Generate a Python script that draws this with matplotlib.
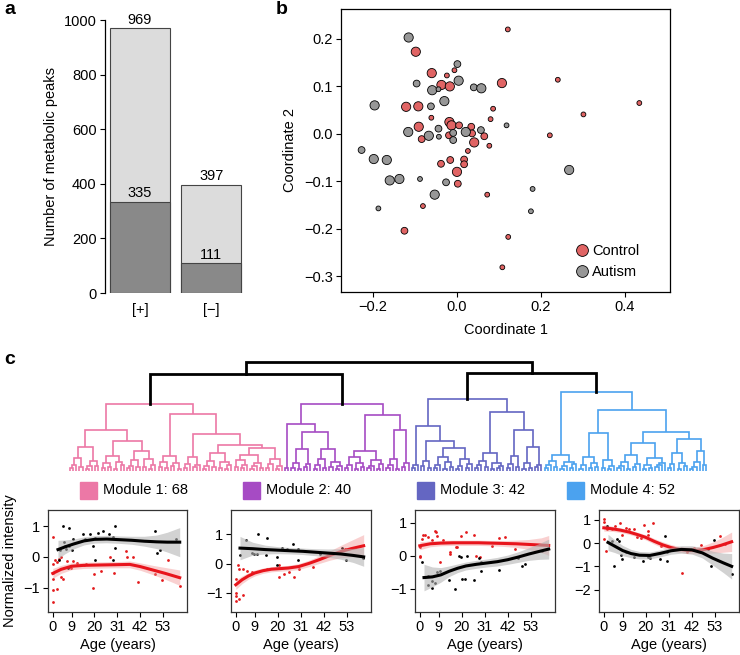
import matplotlib
matplotlib.use("Agg")
import matplotlib.pyplot as plt
from matplotlib.lines import Line2D
from matplotlib.patches import Rectangle
import numpy as np

plt.rcParams["font.family"] = ["Liberation Sans", "DejaVu Sans"]
plt.rcParams["font.size"] = 10.5
plt.rcParams["axes.linewidth"] = 0.9
plt.rcParams["xtick.major.size"] = 3.5
plt.rcParams["ytick.major.size"] = 3.5
plt.rcParams["xtick.major.pad"] = 2.5
plt.rcParams["ytick.major.pad"] = 2.5

MINUS = "\u2212"

# ---------------- data ----------------
# a: number of metabolic peaks per ion mode
modes = ["[+]", "[" + MINUS + "]"]
all_peaks = [969, 397]
sig_peaks = [335, 111]

# b: MDS coordinates, size class 1..3
ctrl_x = [-0.098, -0.060, -0.024, -0.006, -0.037, -0.017, -0.121, -0.092, -0.061, -0.091,
          -0.084, -0.018, -0.013, 0.005, -0.019, 0.034, 0.036, 0.065, 0.041, 0.026,
          0.077, 0.080, 0.086, -0.038, -0.016, 0.017, 0.017, 0.000, 0.002, -0.081,
          -0.125, 0.072, 0.121, 0.107, 0.240, 0.434, 0.301, 0.221, 0.122, 0.108]
ctrl_y = [0.173, 0.128, 0.123, 0.134, 0.103, 0.100, 0.057, 0.058, 0.034, 0.015,
          -0.011, 0.025, 0.018, 0.018, -0.003, 0.015, 0.001, -0.005, -0.018, -0.036,
          -0.025, 0.031, 0.053, -0.063, -0.055, -0.054, -0.064, -0.080, -0.105, -0.152,
          -0.204, -0.128, 0.220, 0.107, 0.114, 0.065, 0.041, -0.003, -0.217, -0.281]
ctrl_sz = [3, 3, 1, 1, 3, 3, 3, 3, 1, 3, 2, 3, 3, 2, 2, 2, 2, 2, 3, 1,
           1, 1, 1, 2, 2, 2, 2, 3, 2, 1, 2, 1, 1, 3, 1, 1, 1, 1, 1, 1]
aut_x = [-0.115, 0.001, 0.004, -0.096, -0.059, -0.044, 0.040, 0.058, -0.196, -0.062,
         -0.030, -0.116, -0.067, -0.044, -0.043, -0.009, -0.009, 0.021, 0.057, 0.118,
         -0.227, -0.198, -0.167, -0.160, -0.137, -0.088, -0.026, -0.053, -0.187, 0.267,
         0.180, 0.176]
aut_y = [0.203, 0.147, 0.112, 0.106, 0.092, 0.094, 0.098, 0.096, 0.060, 0.058,
         0.069, 0.004, -0.004, 0.011, -0.006, 0.002, -0.013, 0.004, 0.008, 0.018,
         -0.034, -0.053, -0.055, -0.098, -0.095, -0.095, -0.102, -0.128, -0.157, -0.076,
         -0.116, -0.163]
aut_sz = [3, 2, 3, 2, 3, 1, 2, 3, 3, 2, 3, 3, 3, 2, 1, 2, 2, 3, 2, 1,
          2, 3, 3, 3, 3, 1, 2, 3, 1, 3, 1, 1]

# c: dendrogram, "(left,right)height", "." = leaf
def j(a, b, h):
    return "(%s,%s)%d" % (a, b, h)

pink_tree = j(j("((((.,.)3,.)6,(.,.)4)13,(((.,.)2,.)5,(.,.)5)10)24",
                j("(((.,.)3,(.,.)4)8,((.,.)2,(.,.)6)9)15",
                  "((((.,.)3,.)5,(.,.)4)11,((.,.)4,((.,.)2,.)6)12)20", 30), 41),
              j("(((.,.)4,(.,.)3)9,((.,.)5,(.,.)2)8)15",
                j("(((.,.)3,.)7,((.,.)4,.)6)14",
                  j("((((.,.)2,.)5,(.,.)4)10,((.,.)3,((.,.)2,.)6)9)18",
                    j("(((.,.)4,((.,.)3,.)6)11,(((.,.)2,.)5,(.,.)3)8)16",
                      "(((.,.)3,.)7,((.,.)2,.)5)12", 23), 26), 37), 57), 67)
purple_tree = j(j("(.,.)3",
                  j("(((.,.)3,(.,.)2)8,((.,.)4,.)7)22",
                    "((((.,.)2,.)6,(.,.)3)12,((.,.)4,((.,.)2,.)5)9)22", 39), 47),
                j("((((.,.)3,.)6,((.,.)2,(.,.)4)8)14,(((.,.)3,.)5,((.,.)2,.)7)11)20",
                  "((((.,.)3,.)6,(.,.)2)12,((.,.)4,.)8)41", 56), 67)
slate_tree = j(j("((.,.)3,.)6",
                 j("((.,.)5,(.,.)3)10",
                   j("(((.,.)3,.)6,((.,.)2,(.,.)4)9)14", "(((.,.)2,.)5,((.,.)3,.)7)12", 23), 30), 45),
               j("((((.,.)3,.)6,(.,.)4)10,((.,.)2,((.,.)3,.)5)8)18",
                 j("(((.,.)3,.)7,(.,.)4)15", "(((.,.)2,(.,.)3)8,((.,.)4,.)6)24", 41), 59), 72)
blue_tree = j("((((.,.)3,.)6,(.,.)4)10,(((.,.)2,.)5,((.,.)3,.)7)9)16",
              j(j("(((.,.)2,.)6,((.,.)3,(.,.)4)8)14", "((.,.)3,((.,.)2,.)5)11", 38),
                j(j("((((.,.)3,.)5,(.,.)2)9,((.,.)4,.)7)16", "(((.,.)2,(.,.)3)6,(((.,.)4,.)6,.)8)13", 28),
                  j("(((.,.)3,.)7,((.,.)2,(.,.)5)8)18", "((((.,.)2,.)4,.)9,(.,.)6)20", 32), 39), 61), 79)
module_trees = [pink_tree, purple_tree, slate_tree, blue_tree]
top_heights = [97, 98, 109]
module_names = ["Module 1", "Module 2", "Module 3", "Module 4"]
module_sizes = [68, 40, 42, 52]
module_colors = ["#ec78a6", "#a64bc4", "#6466c2", "#4ba2ef"]

# c: age trends per module
age_ticks = [0, 9, 20, 31, 42, 53]

m1_red_age = [0, 0, 0, 0, 0, 0, 1.3, 2.1, 2.9, 4.1, 4.0, 4.8, 2.1, 7.0, 7.3, 8.8, 9.8, 11.7, 14.9, 16.2,
              19.7, 19.4, 23.2, 27.3, 29.2, 35.3, 35.6, 38.4, 41.1, 49.0, 52.5, 55.4, 61.0]
m1_red_val = [0.64, -0.24, -0.53, -0.71, -1.06, -1.45, -0.09, -0.15, -0.06, 0.0, -0.64, -0.71, -1.02,
              -0.13, -0.31, -0.36, -0.13, -0.18, -0.26, -0.24, -0.56, -1.01, -0.45, 0.0, -0.51, 0.18,
              0.0, 0.0, -0.82, -0.56, -0.74, -0.09, -0.93]
m1_blk_age = [4.8, 7.9, 14.3, 17.9, 21.9, 24.0, 26.8, 29.8, 48.9, 5.2, 9.8, 15.4, 20.5, 29.0, 59.4,
              5.8, 8.0, 6.2, 9.1, 19.2, 29.8, 51.7, 49.9, 20.5, 29.0, 2.9, 3.4, 7.1]
m1_blk_val = [1.01, 0.93, 0.75, 0.74, 0.76, 0.85, 0.74, 0.99, 0.85, 0.50, 0.58, 0.59, 0.61, 0.64, 0.58,
              0.37, 0.34, 0.25, 0.21, 0.34, 0.28, 0.23, 0.14, -0.10, -0.10, -0.09, 0.24, -0.37]
m1_red_fit = ([0, 4, 9, 15, 22, 30, 37, 42, 48, 54, 61],
              [-0.53, -0.40, -0.30, -0.27, -0.26, -0.25, -0.24, -0.31, -0.42, -0.53, -0.67],
              [0.16, 0.13, 0.11, 0.10, 0.10, 0.10, 0.11, 0.12, 0.15, 0.19, 0.25])
m1_blk_fit = ([2.5, 6, 10, 15, 20, 26, 32, 38, 44, 50, 55, 61],
              [0.24, 0.33, 0.42, 0.52, 0.57, 0.58, 0.56, 0.54, 0.51, 0.49, 0.48, 0.48],
              [0.30, 0.22, 0.16, 0.13, 0.12, 0.12, 0.12, 0.13, 0.16, 0.22, 0.32, 0.47])

m2_red_age = [0.1, 0.1, 0.1, 1.2, 1.7, 1.7, 3.6, 3.6, 5.3, 7.7, 0.1, 14.8, 20.5, 20.5, 22.9, 25.3,
              27.7, 30.2, 36.6, 52.0]
m2_red_val = [-1.0, -1.1, -1.27, -0.03, -0.17, -1.21, -1.08, -0.19, -0.25, -0.29, -0.54, -0.19, -0.05,
              -0.45, -0.36, -0.28, -0.44, -0.19, -0.13, 0.5]
m2_blk_age = [10.8, 14.8, 4.7, 1.8, 5.3, 7.7, 8.8, 10.1, 14.6, 19.8, 22.2, 24.3, 27.5, 29.5, 29.5,
              40.0, 50.7, 52.8, 60.8, 19.8]
m2_blk_val = [1.0, 0.88, 0.81, 0.29, 0.54, 0.35, 0.32, 0.32, 0.29, 0.24, 0.54, 0.49, 0.68, 0.49, 0.14,
              0.34, 0.54, 0.14, 0.20, -0.05]
m2_red_fit = ([0, 3, 6, 9, 13, 17, 21, 25, 30, 35, 40, 45, 50, 55, 61],
              [-0.72, -0.55, -0.42, -0.32, -0.24, -0.19, -0.17, -0.15, -0.10, 0.01, 0.14, 0.28, 0.41, 0.51, 0.61],
              [0.16, 0.13, 0.11, 0.10, 0.09, 0.09, 0.09, 0.09, 0.10, 0.11, 0.13, 0.16, 0.21, 0.28, 0.38])
m2_blk_fit = ([2, 8, 14, 20, 26, 32, 38, 44, 50, 56, 61],
              [0.53, 0.51, 0.48, 0.46, 0.44, 0.42, 0.39, 0.36, 0.33, 0.28, 0.23],
              [0.40, 0.22, 0.15, 0.12, 0.11, 0.11, 0.12, 0.14, 0.18, 0.24, 0.32])

m3_red_age = [0, 0, 0, 1.6, 2.4, 3.9, 1.2, 6.0, 7.1, 7.9, 8.2, 9.8, 11.1, 14.2, 14.5, 17.1, 17.9, 19.5,
              21.8, 25.8, 26.9, 28.5, 37.6, 40.5, 34.5, 45.6]
m3_red_val = [0.25, 0.0, -0.05, 0.63, 0.63, 0.56, 0.49, 0.46, 0.76, 0.71, 0.59, -0.20, 0.46, 0.11, 0.05,
              0.25, 0.27, 0.59, 0.71, 0.63, -0.02, -0.05, 0.52, 0.55, 0.30, 0.20]
m3_blk_age = [1.2, 3.9, 3.9, 6.0, 6.0, 7.1, 8.2, 9.4, 13.8, 17.0, 18.5, 19.5, 20.3, 21.5, 22.6, 25.8,
              28.1, 29.4, 29.4, 37.6, 47.0, 48.7, 50.2, 58.1]
m3_blk_val = [-0.18, -0.60, -0.88, -0.75, -0.99, -0.83, -0.48, -0.45, -0.72, -1.01, 0.0, -0.05, -0.69,
              -0.71, -0.02, -0.74, -0.08, -0.20, -0.45, -0.43, -0.08, -0.30, -0.25, 0.15]
m3_red_fit = ([0, 5, 10, 16, 22, 28, 34, 40, 46, 52, 58, 61.5],
              [0.30, 0.36, 0.38, 0.39, 0.39, 0.39, 0.38, 0.37, 0.36, 0.34, 0.32, 0.31],
              [0.12, 0.09, 0.08, 0.08, 0.08, 0.08, 0.08, 0.09, 0.11, 0.15, 0.22, 0.30])
m3_blk_fit = ([2, 6, 10, 14, 18, 22, 27, 32, 37, 42, 47, 52, 57, 61.5],
              [-0.66, -0.64, -0.58, -0.47, -0.38, -0.31, -0.26, -0.22, -0.18, -0.12, -0.04, 0.05, 0.13, 0.20],
              [0.40, 0.30, 0.22, 0.16, 0.13, 0.12, 0.12, 0.12, 0.13, 0.14, 0.16, 0.19, 0.24, 0.30])

m4_red_age = [0, 0, 0, 1.3, 1.0, 3.8, 5.4, 7.9, 8.7, 10.8, 11.9, 14.3, 15.6, 17.6, 19.2, 20.9, 23.3,
              21.2, 27.3, 37.2, 39.6, 42.9, 46.2, 55.2, 57.6]
m4_red_val = [1.06, 0.92, 0.20, 0.63, -0.34, 0.63, 0.72, 0.86, 0.35, 0.66, 0.63, 0.60, 0.28, 0.24, 0.77,
              0.53, 0.89, 0.35, -0.11, -1.29, -0.40, -0.19, -0.09, 0.31, -0.04]
m4_blk_age = [1.5, 3.9, 4.8, 6.4, 7.2, 8.0, 8.6, 10.5, 14.5, 18.6, 21.0, 21.8, 26.7, 29.2, 30.0, 30.0,
              49.6, 51.1, 52.7, 61.0]
m4_blk_val = [0.72, 0.10, -1.00, 0.17, 0.10, -0.52, -0.69, -0.40, -0.58, -0.77, -0.58, -0.62, -0.69,
              0.31, -0.40, -0.77, -0.24, -1.00, 0.15, -1.34]
m4_red_fit = ([0, 4, 8, 12, 16, 20, 24, 28, 32, 36, 40, 44, 48, 52, 56, 61],
              [0.66, 0.62, 0.56, 0.48, 0.37, 0.25, 0.08, -0.07, -0.19, -0.27, -0.31, -0.31, -0.27, -0.19, -0.09, 0.06],
              [0.14, 0.11, 0.10, 0.10, 0.10, 0.11, 0.12, 0.13, 0.13, 0.13, 0.14, 0.15, 0.18, 0.24, 0.31, 0.42])
m4_blk_fit = ([2, 5, 9, 13, 17, 22, 27, 32, 37, 42, 47, 52, 57, 61],
              [0.03, -0.12, -0.32, -0.45, -0.52, -0.53, -0.44, -0.33, -0.27, -0.29, -0.42, -0.65, -0.85, -1.0],
              [0.35, 0.28, 0.22, 0.18, 0.16, 0.15, 0.15, 0.15, 0.16, 0.18, 0.22, 0.30, 0.42, 0.55])

# ---------------- figure ----------------
W, H = 740, 655
fig = plt.figure(figsize=(W / 100, H / 100), dpi=100)


def box(x0, y0, x1, y1):
    # axes from pixel corners (top-left origin)
    return fig.add_axes([x0 / W, 1 - y1 / H, (x1 - x0) / W, (y1 - y0) / H])


def lab(v, fmt="%g"):
    return (fmt % v).replace("-", MINUS)


# ---- a
ax = box(105, 20, 245, 293)
xs = np.arange(len(modes))
ax.bar(xs, all_peaks, width=0.84, color="#dcdcdc", edgecolor="#444444", linewidth=0.8)
ax.bar(xs, sig_peaks, width=0.84, color="#898989", edgecolor="#444444", linewidth=0.8)
for x, t, s in zip(xs, all_peaks, sig_peaks):
    ax.annotate(str(t), (x, t), xytext=(0, 3), textcoords="offset points",
                ha="center", va="baseline", annotation_clip=False)
    ax.annotate(str(s), (x, s), xytext=(0, 3), textcoords="offset points",
                ha="center", va="baseline")
ax.set_xlim(-0.49, 1.47)
ax.set_ylim(0, 1000)
ax.set_yticks(range(0, 1001, 200))
ax.set_xticks(xs)
ax.set_xticklabels(modes)
ax.tick_params(axis="x", length=0, pad=7)
for sp in ["top", "right", "bottom"]:
    ax.spines[sp].set_visible(False)
ax.set_ylabel("Number of metabolic peaks", labelpad=4)

# ---- b
ax = box(341, 9, 670, 292)
sz = {1: 12, 2: 24, 3: 44}
ax.scatter(ctrl_x, ctrl_y, s=[sz[k] for k in ctrl_sz], c="#e06464", edgecolors="black",
           linewidths=0.6, zorder=3)
ax.scatter(aut_x, aut_y, s=[sz[k] for k in aut_sz], c="#979797", edgecolors="black",
           linewidths=0.6, zorder=3)
ax.set_xlim(-0.276, 0.507)
ax.set_ylim(-0.333, 0.263)
bx = [-0.2, 0.0, 0.2, 0.4]
by = [-0.3, -0.2, -0.1, 0.0, 0.1, 0.2]
ax.set_xticks(bx)
ax.set_xticklabels([lab(v, "%.1f") for v in bx])
ax.set_yticks(by)
ax.set_yticklabels([lab(v, "%.1f") for v in by])
ax.set_xlabel("Coordinate 1", labelpad=6)
ax.set_ylabel("Coordinate 2", labelpad=5)
handles = [Line2D([], [], ls="", marker="o", ms=8.5, mfc="#e06464", mec="black", mew=0.6),
           Line2D([], [], ls="", marker="o", ms=8.5, mfc="#979797", mec="black", mew=0.6)]
ax.legend(handles, ["Control", "Autism"], loc="lower right", frameon=False,
          bbox_to_anchor=(0.93, 0.02), handletextpad=0.1, labelspacing=0.45,
          borderpad=0, handlelength=1.2)

# ---- c dendrogram
def parse(s):
    pos = 0

    def node():
        nonlocal pos
        if s[pos] == ".":
            pos += 1
            return None
        pos += 1
        left = node()
        pos += 1
        right = node()
        pos += 1
        start = pos
        while pos < len(s) and s[pos].isdigit():
            pos += 1
        return (float(s[start:pos]), left, right)

    return node()


axd = box(65, 355, 711, 472)
leaf = [0]


def draw(node, color):
    if node is None:
        x = leaf[0]
        leaf[0] += 1
        return x, 0.0
    h, l, r = node
    xl, hl = draw(l, color)
    xr, hr = draw(r, color)
    axd.plot([xl, xl, xr, xr], [hl, h, h, hr], color=color, lw=1.2,
             solid_joinstyle="miter", solid_capstyle="butt")
    return (xl + xr) / 2, h


def join(a, b, h):
    axd.plot([a[0], a[0], b[0], b[0]], [a[1], h, h, b[1]], color="black", lw=2.0,
             solid_joinstyle="miter", solid_capstyle="projecting")
    return (a[0] + b[0]) / 2, h


tops = [draw(parse(t), c) for t, c in zip(module_trees, module_colors)]
left = join(tops[0], tops[1], top_heights[0])
right = join(tops[2], tops[3], top_heights[1])
join(left, right, top_heights[2])
n_leaf = leaf[0]
pad = (n_leaf - 1) * 5 / 636
axd.set_xlim(-pad, n_leaf - 1 + pad)
axd.set_ylim(-1, 116)
axd.axis("off")

# module legend
legend_px = [80, 243, 417, 567]
for px, name, n, col in zip(legend_px, module_names, module_sizes, module_colors):
    fig.add_artist(Rectangle((px / W, 1 - 498.5 / H), 17 / W, 17 / H, color=col,
                             transform=fig.transFigure))
    fig.text((px + 23) / W, 1 - 490 / H, "%s: %d" % (name, n), va="center", ha="left")

# ---- c trend panels
panels = [
    ((48, 510, 187, 612), (-1.78, 1.52), [-1, 0, 1],
     (m1_red_age, m1_red_val), (m1_blk_age, m1_blk_val), m1_red_fit, m1_blk_fit),
    ((231, 510, 371, 612), (-1.65, 1.83), [-1, 0, 1],
     (m2_red_age, m2_red_val), (m2_blk_age, m2_blk_val), m2_red_fit, m2_blk_fit),
    ((415, 510, 555, 612), (-1.70, 1.38), [-1, 0, 1],
     (m3_red_age, m3_red_val), (m3_blk_age, m3_blk_val), m3_red_fit, m3_blk_fit),
    ((599, 510, 739, 612), (-2.97, 1.43), [-2, -1, 0, 1],
     (m4_red_age, m4_red_val), (m4_blk_age, m4_blk_val), m4_red_fit, m4_blk_fit),
]
for i, (rect, ylim, yt, rpts, bpts, rfit, bfit) in enumerate(panels):
    ax = box(*rect)
    ax.scatter(rpts[0], rpts[1], s=4, c="#e31a1c", linewidths=0, zorder=1)
    ax.scatter(bpts[0], bpts[1], s=4, c="black", linewidths=0, zorder=1)
    a, f, e = (np.array(v) for v in rfit)
    ax.fill_between(a, f - e, f + e, color="#f08a8a", alpha=0.4, lw=0, zorder=2)
    ax.plot(a, f, color="#e8141c", lw=2.2, zorder=3)
    a, f, e = (np.array(v) for v in bfit)
    ax.fill_between(a, f - e, f + e, color="#b4b4b4", alpha=0.6, lw=0, zorder=4)
    ax.plot(a, f, color="black", lw=2.2, zorder=5)
    ax.set_xlim(-2.3, 64.5)
    ax.set_ylim(*ylim)
    ax.set_xticks(age_ticks)
    ax.set_yticks(yt)
    ax.set_yticklabels([lab(v) for v in yt])
    ax.set_xlabel("Age (years)", labelpad=3)
    for sp in ax.spines.values():
        sp.set_color("#333333")
    if i == 0:
        ax.set_ylabel("Normalized intensity", labelpad=4)

# panel letters
fig.text(4 / W, 1 - 10 / H, "a", fontsize=14, fontweight="bold", va="center")
fig.text(276 / W, 1 - 9 / H, "b", fontsize=14, fontweight="bold", va="center")
fig.text(4 / W, 1 - 360 / H, "c", fontsize=14, fontweight="bold", va="center")

fig.savefig("out.png", dpi=100)
